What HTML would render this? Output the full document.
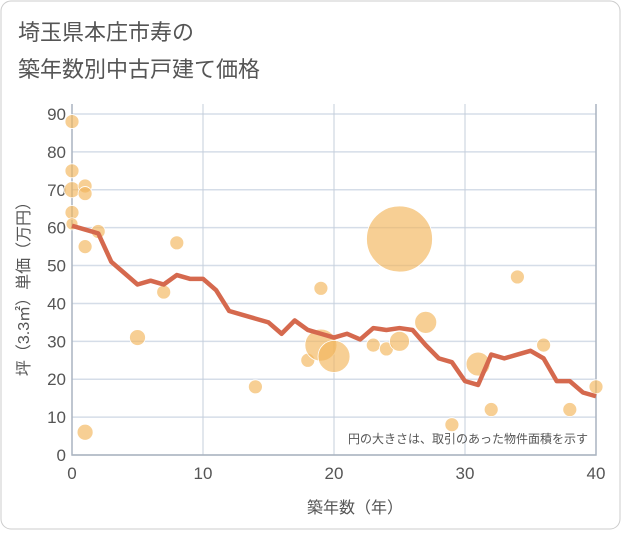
<!DOCTYPE html>
<html><head><meta charset="utf-8"><style>
body{margin:0;background:#fff;font-family:"Liberation Sans","Noto Sans CJK JP",sans-serif;}
#wrap{position:relative;width:621px;height:530px;}
</style></head><body>
<div id="wrap">
<svg id="chart" width="621" height="530">
<rect x="1" y="1" width="619" height="528" rx="10" fill="#fff" stroke="#ccc"/>
<text x="18" y="40" font-size="22" fill="#555">埼玉県本庄市寿の</text>
<text x="18" y="77" font-size="22" fill="#555">築年数別中古戸建て価格</text>
<g id="grid"></g><g id="marks"></g>
<text x="588" y="443" font-size="12" fill="#555" text-anchor="end">円の大きさは、取引のあった物件面積を示す</text>
<text x="355" y="513" font-size="16" fill="#555" text-anchor="middle">築年数（年）</text>
<text transform="translate(29,285) rotate(-90)" font-size="16" fill="#555" text-anchor="middle">坪（3.3㎡）単価（万円）</text>
</svg></div>
<script>
const xTicks=[0,10,20,30,40];
const yTicks=[0,10,20,30,40,50,60,70,80,90];
const lineX=[0,1,2,3,4,5,6,7,8,9,10,11,12,13,14,15,16,17,18,19,20,21,22,23,24,25,26,27,28,29,30,31,32,33,34,35,36,37,38,39,40];
const lineY=[60.5,59.5,58.5,51,48,45,46,45,47.5,46.5,46.5,43.5,38,37,36,35,32,35.5,33,32,31,32,30.5,33.5,33,33.5,33,29,25.5,24.5,19.5,18.5,26.5,25.5,26.5,27.5,25.5,19.5,19.5,16.5,15.5];
const bubX=[0,0,0,0,0,1,1,2,1,8,7,5,1,14,18,19,20,19,23,24,25,25,27,29,31,32,34,36,38,40];
const bubY=[88,75,70,64,61,71,69,59,55,56,43,31,6,18,25,29,26,44,29,28,30,57,35,8,24,12,47,29,12,18];
const bubR=[7,7,8,7,6,7,7,7,7,7,7,8,8,7,7,16,16,7,7,7,10,33,11,7,12,7,7,7,7,7];
const X0=72,X1=596,Y0=455,Y1=114;
const sx=v=>X0+(X1-X0)*v/40, sy=v=>Y0-(Y0-Y1)*v/90;
const NS="http://www.w3.org/2000/svg";
const grid=document.getElementById('grid'), marks=document.getElementById('marks');
function mk(p,tag,a){const e=document.createElementNS(NS,tag);for(const k in a)e.setAttribute(k,a[k]);p.appendChild(e);return e;}
yTicks.forEach(t=>{
 const l=mk(grid,'line',{x1:X0,x2:X1,y1:sy(t),y2:sy(t),stroke:'#d5dde8','stroke-width':1.5});
 
 
 const tx=mk(grid,'text',{x:X0-6,y:sy(t)+6,'font-size':17,fill:'#555','text-anchor':'end'});tx.textContent=t;
 
 
});
xTicks.forEach(t=>{
 const l=mk(grid,'line',{x1:sx(t),x2:sx(t),y1:Y1-10,y2:Y0,stroke:'#c5cfdb','stroke-width':1});
 
 
 const tx=mk(grid,'text',{x:sx(t),y:Y0+24,'font-size':17,fill:'#555','text-anchor':'middle'});tx.textContent=t;
 
 
});
const ax=mk(grid,'path',{d:`M${X0},${Y1-10}V${Y0}H${X1}V${Y1-10}`,fill:'none',stroke:'#aab4c0','stroke-width':1.5});


bubX.forEach((x,i)=>{
 const c=mk(marks,'circle',{cx:sx(x),cy:sy(bubY[i]),r:bubR[i],fill:'#f2b65a','fill-opacity':0.65,stroke:'#fff','stroke-width':0.8});
 
 
});
const p=mk(marks,'polyline',{points:lineX.map((x,i)=>sx(x)+','+sy(lineY[i])).join(' '),fill:'none',stroke:'#d5694e','stroke-width':4.5,'stroke-linejoin':'round'});


</script>
</body></html>
